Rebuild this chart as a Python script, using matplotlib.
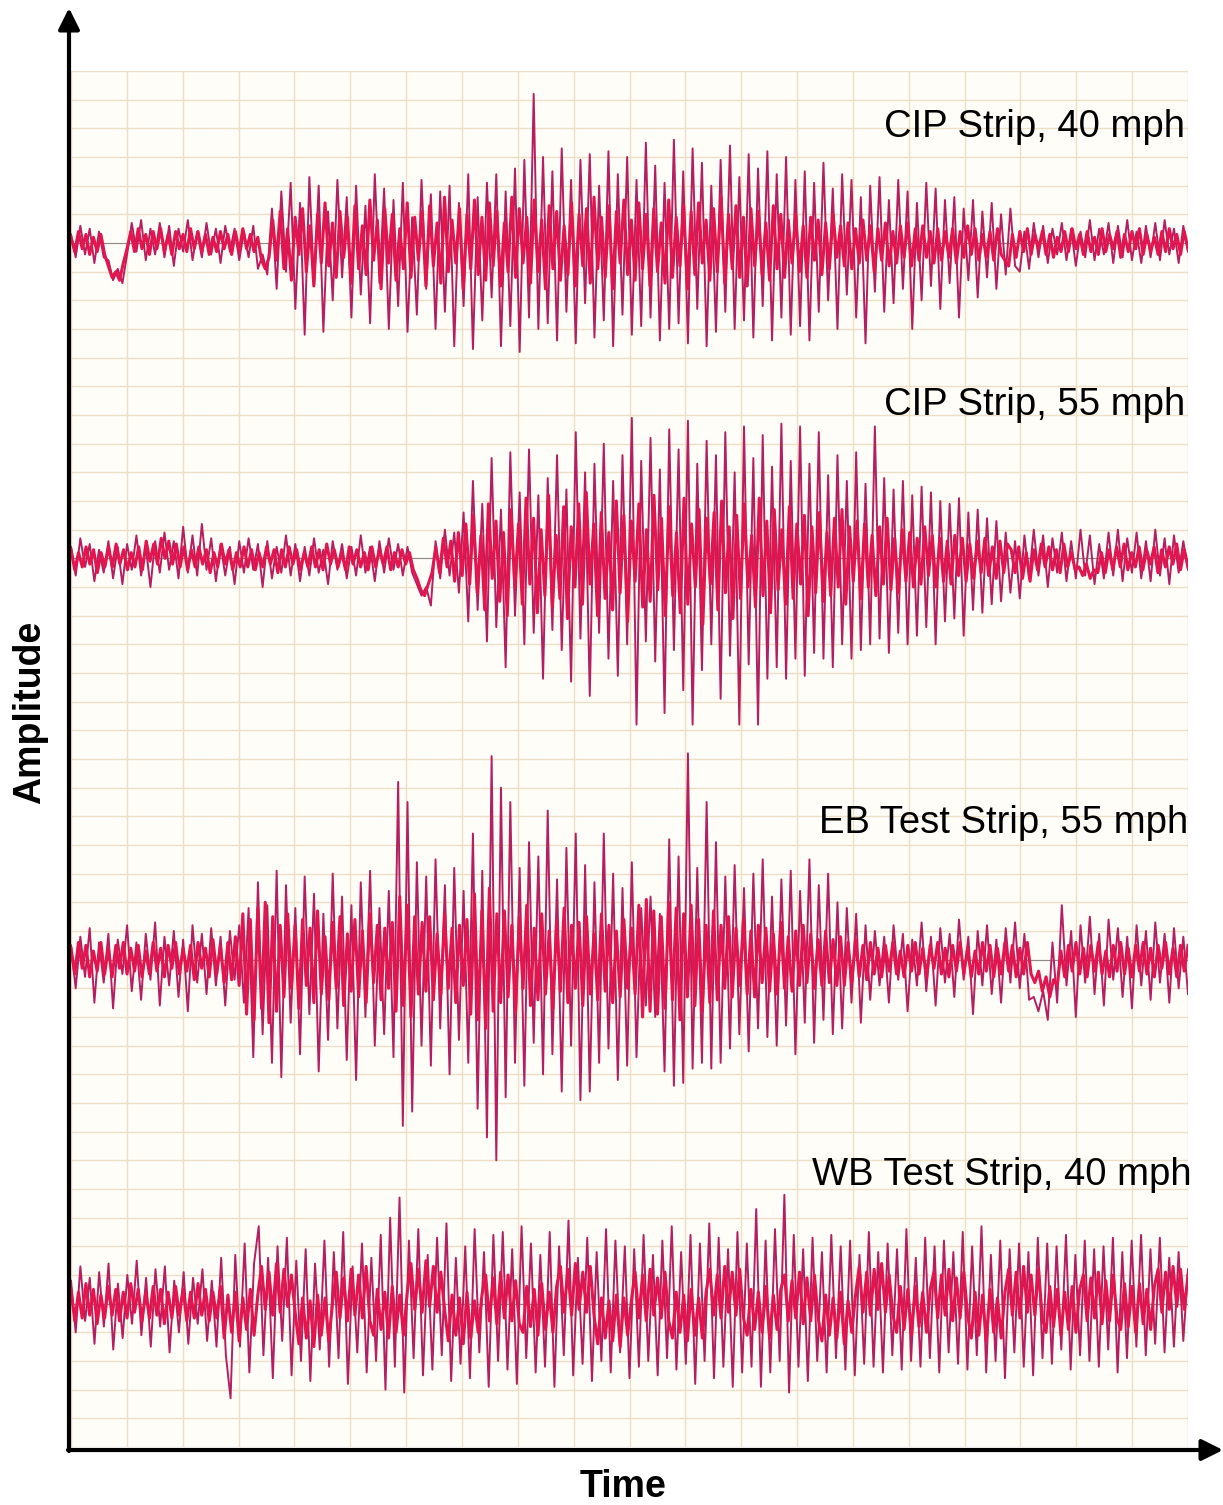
import numpy as np
import matplotlib
matplotlib.use("Agg")
import matplotlib.pyplot as plt

# ---------------- data (amplitude in grid-row units) ----------------
trace_labels = ["CIP Strip, 40 mph", "CIP Strip, 55 mph", "EB Test Strip, 55 mph", "WB Test Strip, 40 mph"]

# large excursions (spikes)
cip40_spikes = [0.3, -0.5, 0.6, -0.4, 0.5, -0.7, 0.4, -0.5,
         -0.6, -1.3, -0.9, -1.4,
         -0.4, 0.7, -0.3, 0.8, -0.6, 0.5, -0.4, 0.7, -0.5, 0.6, -0.8, 0.5, -0.3, 0.8, -0.6, 0.4, -0.5, 0.7,
         -0.4, 0.5, -0.7, 0.6, -0.3, 0.5, -0.6, 0.4, -0.5, 0.6,
         -0.9, -0.4, -1.1,
         1.2, -1.6, 1.8, -1.0, 2.1, -2.3, 1.4, -3.2, 2.3, -1.5, 2.0, -3.1, 1.1, -2.0, 2.2, -1.2, 1.6, -2.6,
         2.0, -1.8, 1.3, -2.8, 2.4, -1.4, 1.9, -3.0, 1.5, -2.2, 2.1, -3.1, 0.9, -2.5, 2.2, -1.6, 1.7, -3.0,
         1.8, -2.4, 2.0, -3.6, 1.4, -2.2, 2.4, -3.7, 1.6, -2.7, 2.1, -1.9, 2.4, -3.6, 1.8, -2.9, 2.6,
         -3.8, 2.9, -2.6, 5.2, -3.0,
         3.0, -2.8, 2.5, -3.4, 3.3, -2.4, 2.2, -3.5, 2.9, -2.1, 3.1, -3.3, 2.0, -2.7, 3.2, -3.6, 2.4, -2.5,
         3.0, -3.2, 2.2, -2.9, 3.5, -2.6, 2.7, -3.4, 2.1, -3.0, 3.6, -2.8, 2.5, -3.5, 3.3, -2.3, 2.8, -3.6,
         2.0, -3.1, 2.9, -2.4, 3.4, -3.0, 2.3, -2.7, 3.1, -3.3, 2.6, -2.2, 3.2, -3.4, 2.4, -2.6, 3.0, -3.2, 2.2,
         -2.9, 2.5, -3.4, 2.1, -2.4, 2.8, -2.0, 1.9, -3.0, 2.4, -1.8, 2.2, -2.6, 1.6, -3.5, 2.0, -1.7, 2.3,
         -2.4, 1.5, -2.1, 2.2, -1.6, 1.8, -3.0, 1.4, -2.0, 2.1, -1.5, 1.9, -2.3, 1.5, -1.4, 1.6, -2.6, 1.2,
         -1.3, 1.5, -1.9, 1.1, -1.2, 1.4, -1.6, 1.0, -1.1, 1.2,
         -0.8, -1.0, 0.4, -0.9, 0.7, -0.5, 0.6, -0.7, 0.5, -0.4, 0.7, -0.6, 0.5, -0.8, 0.4, -0.5, 0.8, -0.6,
         0.5, -0.4, 0.7, -0.7, 0.6, -0.5, 0.8, -0.6, 0.4, -0.7, 0.6, -0.5, 0.7, -0.6, 0.8, -0.4, 0.5, -0.7,
         0.6, -0.3]

cip55_spikes = [0.4, -0.6, 0.7, -0.3, 0.5, -0.8, 0.3, -0.5, 0.6, -0.7, 0.4, -0.9, 0.5, -0.4, 0.8, -0.6, 0.4, -1.0,
         0.6, -0.5, 0.9, -0.4, 0.6, -0.7, 1.1, -0.5, 0.8, -0.6, 1.2, -0.4, 0.7, -0.8, 0.5, -0.6, 0.4, -0.9,
         0.6, -0.5, 0.7, -0.4, 0.5, -1.0, 0.6, -0.7, 0.4, -0.5, 0.8, -0.6, 0.5, -0.8, 0.4, -0.6, 0.7, -0.5,
         0.3, -0.9, 0.6, -0.4, 0.5, -0.7, 0.4, -0.6, 0.8, -0.5, 0.4, -0.8, 0.6, -0.5, 0.7, -0.4, 0.5, -0.6,
         0.4, -0.5,
         -0.9, -1.3, -1.0, -1.65,
         0.6, -0.7, 1.0, -0.6, 0.9, -1.2, 1.6, -2.2,
         2.7, -1.8, 1.9, -2.9, 3.5, -2.4, 1.7, -3.8, 3.7, -2.0, 2.3, -3.0, 3.8, -2.6, 2.2, -4.2,
         2.8, -2.5, 3.6, -3.2, 2.4, -4.3, 4.4, -2.8, 3.0, -4.8, 3.3, -2.6, 4.0, -3.5, 2.7, -4.1, 3.6, -3.0,
         4.9, -5.8, 3.4, -2.9, 4.2, -3.6, 3.1, -5.4, 4.5, -3.2, 3.8, -4.6, 4.8, -5.8, 3.3, -3.9, 4.1, -3.0,
         3.6, -4.9, 4.4, -3.4, 3.0, -5.8, 4.6, -3.7, 3.5, -5.8, 4.3, -4.2, 3.2, -3.8, 4.7, -4.2, 3.4, -3.5, 4.6,
         -4.1, 3.3, -3.3, 4.4, -3.5, 2.9, -3.8, 3.6, -3.0, 2.7, -3.5, 3.7, -3.2, 2.6, -3.0, 4.6, -2.8, 2.8,
         -3.3, 2.4, -2.6, 2.7, -3.0, 2.2, -2.7, 2.5, -2.4, 2.3, -3.0, 2.0, -2.2, 1.9, -2.1, 2.1, -2.7, 1.6,
         -1.8, 1.7, -1.9, 1.4, -1.6, 1.3, -1.5,
         0.9, -1.2, 0.6, -1.4, 0.8, -0.7, 1.0, -0.6, 0.8, -1.0, 0.7, -0.5, 0.9, -0.8, 0.6, -0.7, 1.0, -0.6,
         0.8, -0.9, 0.5, -0.7, 0.9, -0.6, 1.0, -0.8, 0.7, -0.5, 0.9, -0.7, 0.6, -0.8, 1.0, -0.6, 0.7, -0.9,
         0.8, -0.5, 0.6, -0.4]

eb55_spikes = [0.5, -1.0, 0.8, -0.6, 1.1, -1.5, 0.6, -0.8, 0.9, -1.7, 0.7, -0.5, 1.2, -1.1, 0.6, -1.4, 0.9, -0.7,
        1.3, -1.6, 0.8, -0.9, 1.0, -1.3, 0.7, -1.8, 1.2, -0.8, 0.9, -1.2, 1.1, -0.9, 0.8, -1.6, 1.0, -0.7, 1.2,
        -1.5, 1.8, -3.4, 2.7, -2.6, 1.9, -3.6, 3.1, -4.1,
        2.6, -2.2, 1.8, -3.3, 2.9, -1.9, 2.3, -3.9, 1.6, -2.8, 3.0, -2.4, 2.2, -3.5, 1.9, -4.2, 2.7, -2.0,
        3.1, -3.0, 1.8, -2.6, 2.4, -3.4,
        6.2, -5.8, 5.5, -5.3, 3.4, -3.0,
        2.9, -3.7, 3.5, -2.4, 2.6, -4.0, 3.2, -2.8, 2.4, -3.6,
        4.4, -5.2, 3.1, -6.2, 7.1, -7.0, 6.0, -4.8,
        5.5, -3.6, 3.2, -4.4, 4.1, -2.9, 3.6, -4.0, 5.2, -3.3, 2.8, -4.6, 3.9, -3.0, 4.4, -4.9, 3.3, -4.6,
        2.7, -3.6, 4.4, -3.1, 3.0, -4.2, 2.5, -3.7, 3.4, -3.4,
        1.8, -1.6, 2.2, -2.0, 1.6,
        -3.9, 4.2, -4.4, 3.6, -4.3, 7.2, -3.8, 3.2, -3.6, 5.5, -3.8, 4.1,
        -3.6, 2.9, -3.1, 3.3, -2.6, 2.5, -3.2, 3.0, -2.4, 3.5, -2.7, 2.2, -3.0, 2.8, -2.3, 3.1, -3.3, 2.4,
        -2.2, 3.5, -2.9, 2.6, -2.1, 3.0, -2.6, 2.0,
        -2.4, 1.8, -1.5, 1.6, -2.2, 1.2, -1.4,
        1.0, -0.9, 0.8, -1.5, 1.2, -0.7, 0.9, -1.8, 0.7, -0.9, 1.3, -1.1, 0.8, -1.6, 1.1, -0.8, 0.9, -1.3,
        1.4, -0.7, 0.8, -1.9, 1.0, -0.9, 1.2, -1.2, 0.7, -1.5, 1.1, -0.8, 1.3, -1.0, 0.9, -1.4,
        -1.3, -1.8, -1.1, -2.1, 0.6, -1.5,
        1.9, -0.9, 1.0, -2.0, 1.2, -0.8, 1.5, -1.2, 0.9, -1.6, 1.4, -0.7, 1.1, -1.3, 0.8, -1.7, 1.2, -0.9,
        1.0, -1.4, 1.3, -0.8, 0.9, -1.5, 1.1, -1.0, 0.8, -1.2]

wb40_spikes = [0.8, -1.0, 1.3, -0.6, 0.9, -1.4, 1.1, -0.8, 1.4, -1.6, 0.7, -1.2, 1.0, -0.7, 1.5, -1.1, 0.9, -1.5,
        1.2, -0.8, 1.3, -1.7, 0.8, -1.0, 1.1, -1.4, 0.9, -0.7, 1.2, -1.3, 0.8, -1.5, 1.6, -1.8,
        -3.3, 1.7, -1.5, 2.1, -2.4, 1.4, 2.7, -1.8, 1.6, -2.6, 2.0, -1.3, 2.3, -2.5, 1.5, -2.0, 1.9, -2.7,
        1.4, -1.6, 2.2, -2.2, 1.8, -1.9, 2.5, -2.8, 1.3, -1.7, 2.1, -2.4, 1.6, -2.0, 2.4, -3.0, 3.0, -2.2,
        3.7, -3.1, 2.2, -1.9, 2.6, -2.5, 1.7, -2.3, 2.3, -1.8, 2.8, -2.7, 1.6, -2.1, 2.0, -2.6, 2.6, -1.7,
        1.8, -2.9, 2.4, -2.0, 2.5, -2.3, 1.9, -2.8, 2.7, -1.9, 2.1, -2.4, 1.7, -2.2, 2.5, -2.9, 2.0, -1.8,
        2.9, -2.5, 1.6, -2.1, 2.3, -2.7, 1.8, -2.0, 2.6, -2.4, 2.2, -1.7, 2.0, -2.6, 1.9, -2.2, 2.4, -2.0,
        1.7, -2.5, 2.2, -1.9, 2.7, -2.3, 1.8, -2.1, 2.4, -2.8, 2.1, -2.0, 2.8, -2.6, 2.3, -2.2, 1.9, -2.9,
        2.5, -2.4, 2.1, -2.2, 3.3, -2.9, 2.2, -2.4, 2.6, -2.0, 3.8, -3.1, 2.4, -2.2, 1.9, -2.7, 2.3, -2.0,
        1.8, -2.4, 2.4, -1.9, 2.0, -2.3, 2.2, -2.5, 1.7, -2.1, 2.5, -2.2, 1.8, -2.4, 2.1, -1.8, 1.9, -2.3,
        2.6, -2.0, 1.6, -2.2, 2.3, -1.9, 2.0, -2.4, 2.2, -1.7, 1.8, -2.1, 2.5, -2.3, 2.0, -1.8, 2.7, -2.4,
        1.7, -2.0, 2.2, -2.6, 1.9, -1.7, 2.1, -2.2, 1.8, -2.5, 2.3, -1.9, 2.1, -2.1, 2.0, -1.6, 2.4, -2.3,
        1.7, -1.8, 2.2, -2.0, 1.9, -2.2, 2.0, -1.6, 2.3, -2.4, 1.8, -1.9, 2.2, -1.5, 2.4, -1.8, 1.9, -1.4,
        2.3, -1.7, 1.6, -1.5, 1.8, -1.3, 1.2]

# dense small-amplitude band around each trace centre (the thick pink core)
cip40_core = [0.2, -0.3, 0.4, -0.2, 0.3, -0.4, 0.2, -0.3, 0.3, -0.4,
    -0.8, -1.2, -1.0, -1.3, -0.7,
    -0.2, 0.4, -0.3, 0.5, -0.2, 0.3, -0.4, 0.4, -0.2, 0.5, -0.3, 0.3, -0.4, 0.4, -0.2, 0.3, -0.3, 0.5,
    -0.2, 0.4, -0.3, 0.3, -0.4, 0.2, -0.3, 0.4, -0.2, 0.3, -0.4, 0.4, -0.3, 0.5, -0.2, 0.3, -0.3, 0.2,
    -0.6, -0.9, -0.5,
    0.8, -0.6, 1.1, -0.9, 0.5, -1.3, 0.9, -0.4, 1.2, -1.0, 0.6, -1.5, 1.0, -0.7,
    1.4, -0.8, 0.7, -1.2, 1.1, -0.5, 0.9, -1.4, 1.3, -0.9, 0.6, -1.1, 1.5, -0.6,
    0.8, -1.6, 1.2, -0.7, 1.0, -1.3, 0.5, -0.9, 1.4, -1.2, 0.9, -0.6, 1.1, -1.5,
    1.3, -0.8, 0.7, -1.4, 1.6, -1.0, 0.8, -0.7, 1.2, -1.6, 1.0, -0.9, 1.5, -1.1,
    0.9, -1.3, 1.4, -0.8, 1.1, -1.5, 0.7, -1.0, 1.6, -1.2, 1.2, -0.7, 0.9, -1.4,
    1.5, -1.0, 0.8, -1.6, 1.3, -0.9, 1.1, -1.3, 0.6, -1.1, 1.4, -1.5, 1.0, -0.8,
    1.2, -1.4, 1.6, -0.9, 0.9, -1.2, 1.3, -1.6, 1.1, -0.7, 1.5, -1.1, 0.8, -1.3,
    1.4, -0.9, 1.0, -1.5, 1.2, -1.0, 0.7, -1.4, 1.5, -1.2, 0.9, -0.8, 1.3, -1.6,
    1.1, -1.1, 1.4, -0.7, 0.8, -1.3, 1.2, -1.0, 1.6, -1.4, 1.0, -0.9, 1.3, -1.2,
    0.9, -1.5, 1.2, -0.8, 1.1, -1.1, 0.7, -1.3, 1.3, -0.9, 1.0, -1.2, 0.8, -0.7,
    1.0, -1.0, 0.6, -1.2, 0.9, -0.6, 0.8, -1.1, 0.7, -0.9, 1.0, -0.5, 0.6, -0.8,
    0.7, -0.9, 0.5, -0.7, 0.8, -0.6, 0.6, -1.0, 0.5, -0.6, 0.7, -0.8, 0.4, -0.7,
    0.6, -0.5, 0.7, -0.8, 0.5, -0.6, 0.6, -0.5, 0.4, -0.7, 0.5, -0.6, 0.4, -0.5,
    0.5, -0.7, 0.4, -0.5, 0.6, -0.4, 0.5, -0.6, 0.3, -0.5, 0.4, -0.6, 0.5, -0.4,
    -0.6, -0.8, 0.3, -0.5, 0.4, -0.3, 0.5, -0.4, 0.3, -0.2, 0.4, -0.4, 0.3, -0.5, 0.2, -0.3, 0.4, -0.3,
    0.5, -0.2, 0.3, -0.4, 0.4, -0.3, 0.2, -0.4, 0.5, -0.3, 0.3, -0.2, 0.4, -0.5, 0.3, -0.3, 0.4, -0.2,
    0.5, -0.4, 0.3, -0.3, 0.2, -0.4, 0.4, -0.3, 0.5, -0.2, 0.3, -0.4, 0.4, -0.2]

cip55_core = [0.3, -0.4, 0.2, -0.3, 0.4, -0.2, 0.3, -0.5, 0.2, -0.3,
    0.4, -0.3, 0.5, -0.2, 0.3, -0.4, 0.2, -0.3, 0.4, -0.4,
    0.6, -0.1, 0.5, -0.2, 0.7, 0.0, 0.6, -0.2, 0.5, -0.3,
    0.4, -0.4, 0.3, -0.3, 0.4, -0.2, 0.3, -0.5, 0.2, -0.3,
    0.5, -0.2, 0.3, -0.4, 0.2, -0.3, 0.4, -0.3, 0.3, -0.4,
    0.2, -0.3, 0.4, -0.2, 0.3, -0.5, 0.3, -0.3, 0.4, -0.2,
    0.3, -0.4, 0.2, -0.3, 0.4, -0.3, 0.3, -0.4, 0.5, -0.2,
    0.3, -0.3, 0.2, -0.4, 0.4, -0.2, 0.3, -0.3, 0.2, -0.4,
    0.4, -0.3, 0.3, -0.2, 0.4, -0.4, 0.2, -0.3, 0.3, -0.2,
    0.2, -0.4,
    -0.7, -1.1, -1.3, -0.9, -0.5,
    0.4, -0.5, 0.7, -0.3, 0.6, -0.8, 0.9, -0.6, 1.2, -0.9,
    1.5, -1.2, 0.8, -1.8, 1.9, -0.7, 1.3, -1.5, 0.9, -2.0, 1.7, -1.0, 1.2,
    -1.6, 2.1, -0.9, 1.4, -1.9, 1.0, -1.3, 2.2, -1.7, 0.8, -1.4, 1.8, -2.1,
    1.1, -1.0, 1.9, -1.6, 2.3, -0.9, 1.2, -2.0, 1.6, -1.4, 0.9, -1.8, 2.0,
    -1.2, 1.5, -2.2, 1.3, -0.8, 1.9, -1.7, 1.0, -1.5, 2.2, -1.1, 1.4, -2.0,
    1.8, -1.3, 0.9, -1.9, 2.1, -1.6, 1.2, -1.0, 1.7, -2.3, 1.4, -0.9, 1.6,
    -1.8, 2.0, -1.2, 1.1, -2.1, 1.5, -1.4, 1.9, -1.0, 0.8, -1.7, 2.1, -1.3,
    1.3, -1.9, 1.7, -1.1, 1.0, -1.6, 1.8, -1.4, 1.2, -0.9, 1.5, -2.0, 1.1,
    -1.2, 1.6, -1.5, 0.9, -1.3, 1.4, -1.0, 1.7, -1.6, 1.1, -0.8, 1.3, -1.4,
    1.2, -1.0, 0.8, -1.3, 1.1, -0.9, 1.4, -1.1, 0.7, -1.2, 1.0, -0.8, 0.9,
    -1.0, 0.7, -0.9, 1.1, -0.6, 0.8, -1.0, 0.7, -0.8, 0.6, -0.9, 0.8, -0.6,
    0.7, -0.8, 0.5, -0.7, 0.6, -0.5, 0.7, -0.6, 0.4, -0.7, 0.6, -0.5, 0.5,
    0.3, -0.5, 0.4, -0.7, 0.2, -0.8, 0.3, -0.4, 0.5, -0.3, 0.4, -0.4, 0.3, -0.5, 0.5, -0.3, 0.2, -0.4,
    -0.3, -0.6, -0.2, -0.7, -0.4, -0.5, 0.2, -0.5, 0.3, -0.4, 0.4, -0.3, 0.5, -0.4, 0.2, -0.3, 0.4, -0.4,
    0.3, -0.2, 0.4, -0.5, 0.3, -0.3, 0.4, -0.2, 0.5, -0.4, 0.3, -0.3]

eb55_core = [0.4, -0.5, 0.6, -0.3, 0.5, -0.6, 0.3, -0.4, 0.6, -0.5, 0.4, -0.6, 0.5, -0.3, 0.6, -0.5, 0.4, -0.4,
    0.5, -0.6, 0.3, -0.5, 0.6, -0.4, 0.4, -0.6, 0.5, -0.3, 0.6, -0.5, 0.4, -0.4, 0.5, -0.7, 0.6, -0.3,
    0.4, -0.6, 0.7, -0.5, 0.5, -0.8, 0.6, -0.7, 0.8, -0.9,
    1.6, -1.9, 1.4, -2.1, 1.8, -1.7, 2.0, -2.2, 1.5, -1.8, 1.2,
    -1.3, 1.6, -1.0, 1.2, -1.7, 1.4, -0.9, 1.1, -1.5, 1.7, -1.2, 0.8, -1.4, 1.3, -1.0, 1.5, -1.6, 0.9,
    -1.1, 1.4, -1.3, 1.0, -1.5, 1.6, -0.8, 1.2, -1.4, 1.1, -1.0, 1.3,
    -1.8, 2.2, -1.6, 1.9, -2.0, 1.5, -1.2,
    1.3, -1.1, 1.5, -1.4, 0.9, -1.2, 1.6, -1.0, 1.1, -1.5, 1.2, -0.9, 1.4,
    -1.9, 2.3, -2.1, 1.7, -2.4, 2.5, -1.8, 1.6, -1.5,
    1.7, -1.3, 1.2, -1.8, 1.5, -1.0, 1.9, -1.6, 1.1, -1.4, 1.6, -1.2, 1.0, -1.7, 1.4, -1.1, 1.8, -1.5,
    1.2, -1.0, 1.3, -1.6, 1.5, -1.2, 0.9, -1.4, 1.6, -1.1, 1.2, -1.5, 1.0, -1.3, 1.4, -1.0, 1.1, -1.2,
    1.9, -2.0, 2.1, -1.8, 1.7, -1.9,
    1.5, -1.7, 2.0, -1.4, 1.8, -2.1, 1.6, -1.3, 1.9, -1.6, 1.4, -1.8, 1.2, -1.5, 1.7,
    -1.4, 1.2, -1.0, 1.5, -1.3, 1.1, -0.9, 1.4, -1.2, 1.0, -1.3, 1.2, -0.8, 1.1, -1.1, 0.9, -1.2, 1.3,
    -1.0, 0.8, -1.1, 1.0, -0.9, 1.2, -0.8, 0.9, -1.0, 0.7, -0.9, 1.0, -0.8, 0.7, -0.9,
    0.8, -0.9, 0.6, -0.8, 0.7, -0.6, 0.5, -0.7, 0.6,
    -0.5, 0.4, -0.6, 0.5, -0.4, 0.6, -0.5, 0.3, -0.6, 0.5, -0.4, 0.6, -0.5, 0.4, -0.6, 0.5, -0.3, 0.6,
    -0.5, 0.4, -0.6, 0.5, -0.4, 0.6, -0.5, 0.4, -0.6, 0.3, -0.5, 0.6, -0.4, 0.5, -0.6, 0.4, -0.5, 0.6,
    -0.4, 0.5, -0.6, 0.4, -0.5, 0.6, -0.5,
    -0.8, -0.4, -1.1, -0.6, -1.3, -0.7, -0.9,
    0.3, -0.6, 0.5, -0.4, 0.6, -0.5, 0.4, -0.6, 0.5, -0.4, 0.6, -0.5, 0.3, -0.6, 0.5, -0.4, 0.6, -0.5,
    0.4, -0.6, 0.5, -0.4, 0.6, -0.5, 0.4, -0.6, 0.5, -0.3, 0.6, -0.5, 0.4, -0.6, 0.5, -0.4, 0.5]

wb40_core = [0.5, -0.6, 0.4, -0.5, 0.7, -0.4, 0.5, -0.7, 0.3, -0.5, 0.6, -0.4, 0.5, -0.6, 0.4, -0.5, 0.7,
    -0.3, 0.5, -0.6, 0.4, -0.5, 0.6, -0.4, 0.5, -0.7, 0.4, -0.5, 0.6, -0.4, 0.5, -0.6, 0.4, -0.5, 0.7,
    -0.4, 0.5, -0.6, 0.4, -0.5, 0.6,
    -1.2, 0.3, -1.0, 0.4, -1.3, 0.2, -0.9, 0.5, -1.1, 0.3,
    1.3, -0.2, 1.1, -0.4, 1.4, -0.3, 1.2, -0.1, 1.0, -0.3,
    -1.4, 0.2, -1.2, 0.1, -1.5, 0.3, -1.1, 0.2, -1.3, 0.0,
    1.1, -0.5, 0.9, -0.6, 1.2, -0.4, 1.0, -0.5, 1.3, -0.6,
    -1.1, 0.5, -0.9, 0.4, -1.2, 0.6, -1.0, 0.3, -1.1, 0.4,
    1.4, -0.2, 1.2, -0.3, 1.5, -0.1, 1.3, -0.3, 1.1, -0.2,
    -1.3, 0.3, -1.1, 0.2, -1.4, 0.4, -1.2, 0.1, -1.0, 0.3,
    1.0, -0.6, 0.9, -0.7, 1.1, -0.5, 1.0, -0.6, 0.8, -0.7,
    -1.0, 0.6, -0.8, 0.5, -1.1, 0.7, -0.9, 0.4, -1.0, 0.6,
    1.3, -0.3, 1.2, -0.4, 1.4, -0.2, 1.1, -0.3, 1.3, -0.4,
    -1.4, 0.2, -1.2, 0.1, -1.3, 0.3, -1.5, 0.2, -1.1, 0.1,
    1.1, -0.5, 1.0, -0.6, 1.2, -0.4, 0.9, -0.5, 1.1, -0.6,
    -1.2, 0.4, -1.0, 0.3, -1.3, 0.5, -1.1, 0.2, -1.2, 0.4,
    1.2, -0.4, 1.0, -0.5, 1.3, -0.3, 1.1, -0.4, 1.2, -0.5,
    -1.1, 0.5, -0.9, 0.4, -1.0, 0.6, -1.2, 0.3, -0.9, 0.5,
    1.0, -0.6, 0.8, -0.5, 1.1, -0.7, 0.9, -0.6, 1.0, -0.5,
    -1.3, 0.3, -1.1, 0.2, -1.2, 0.4, -1.4, 0.1, -1.0, 0.3,
    1.3, -0.3, 1.1, -0.4, 1.2, -0.2, 1.4, -0.3, 1.0, -0.4,
    -1.0, 0.6, -0.9, 0.5, -1.1, 0.6, -0.8, 0.4, -1.0, 0.5,
    1.1, -0.5, 1.0, -0.4, 1.2, -0.6, 0.9, -0.5, 1.1, -0.4,
    -1.2, 0.4, -1.1, 0.3, -1.3, 0.5, -1.0, 0.2, -1.2, 0.4,
    1.2, -0.4, 1.1, -0.5, 1.3, -0.3, 1.0, -0.4, 1.2, -0.5,
    -1.0, 0.6, -0.8, 0.5, -1.1, 0.4, -0.9, 0.6, -1.0, 0.5,
    1.0, -0.6, 0.9, -0.5, 1.1, -0.7, 0.8, -0.6, 1.0, -0.5,
    -0.9, 0.7, -0.8, 0.6, -1.0, 0.7, -0.7, 0.5, -0.9, 0.6,
    1.2, -0.3, 1.1, -0.2, 1.3, -0.1, 1.2, -0.2, 1.0]

baselines = [42.0, 31.0, 17.0, 5.0]

# ---------------- figure ----------------
W, H = 1223, 1505
fig = plt.figure(figsize=(W / 100, H / 100), dpi=100)
fig.patch.set_facecolor("white")

gx0, gx1, gy0, gy1 = 71, 1188, 71, 1447
ax = fig.add_axes([gx0 / W, 1 - gy1 / H, (gx1 - gx0) / W, (gy1 - gy0) / H])
ax.set_facecolor("#fffdf8")
ax.set_xlim(0, 20)
ax.set_ylim(0, 48)
ax.set_xticks(np.arange(0, 21, 1))
ax.set_yticks(np.arange(0, 49, 1))
ax.tick_params(length=0, labelbottom=False, labelleft=False)
ax.grid(True, color="#ecdfc6", linewidth=1.0)
for s in ax.spines.values():
    s.set_visible(False)

spike_color = "#b51f5f"
core_color = "#e3154f"
series = [(cip40_spikes, cip40_core), (cip55_spikes, cip55_core),
          (eb55_spikes, eb55_core), (wb40_spikes, wb40_core)]
for (spk, core), base in zip(series, baselines):
    ax.axhline(base, color="#8c8c8c", linewidth=0.8, zorder=2)
    s = np.asarray(spk, dtype=float)
    c = np.asarray(core, dtype=float)
    ax.plot(np.linspace(0, 20, len(s)), base + s, color=spike_color, linewidth=1.4, zorder=3)
    ax.plot(np.linspace(0, 20, len(c)), base + c, color=core_color, linewidth=2.2, zorder=4)

# overlay in pixel coordinates for axes arrows and text
ov = fig.add_axes([0, 0, 1, 1], facecolor="none")
ov.set_xlim(0, W)
ov.set_ylim(H, 0)
ov.axis("off")

ov.annotate("", xy=(69, 8), xytext=(69, 1451),
            arrowprops=dict(arrowstyle="-|>", color="black", lw=3, mutation_scale=32, shrinkA=0, shrinkB=0))
ov.annotate("", xy=(1223, 1450), xytext=(68, 1450),
            arrowprops=dict(arrowstyle="-|>", color="black", lw=3, mutation_scale=32, shrinkA=0, shrinkB=0))

font = ["Liberation Sans", "DejaVu Sans"]
ov.text(30, 712, "Amplitude", rotation=90, ha="center", va="center", fontsize=27,
        fontweight="bold", family=font)
ov.text(623, 1487, "Time", ha="center", va="center", fontsize=27, fontweight="bold", family=font)

label_pos = [(1185, 127), (1185, 405), (1188, 823), (1192, 1175)]
for lab, (px, py) in zip(trace_labels, label_pos):
    ov.text(px, py, lab, ha="right", va="center", fontsize=27.5, family=font, color="black")

fig.savefig("out.png", dpi=100)
